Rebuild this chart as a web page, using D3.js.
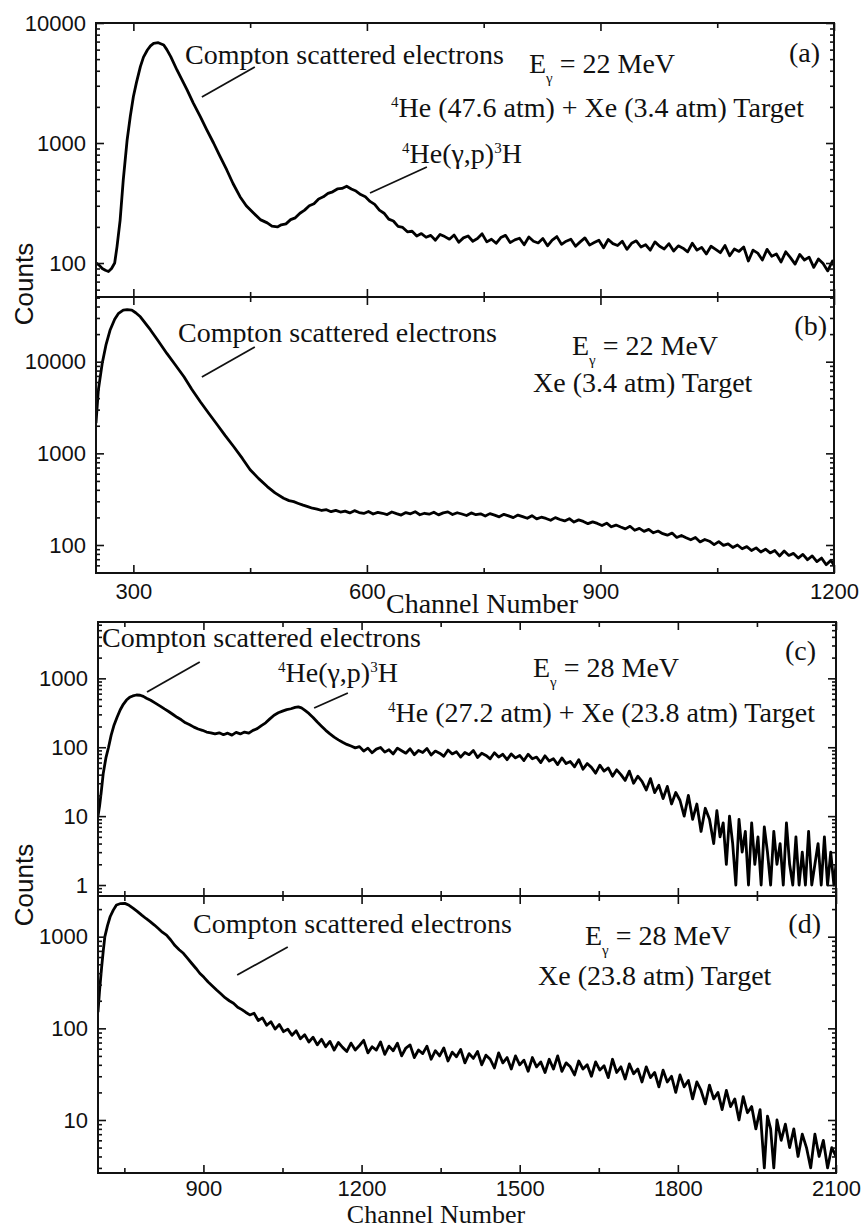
<!DOCTYPE html>
<html>
<head>
<meta charset="utf-8">
<script src="https://cdn.jsdelivr.net/npm/d3@7"></script>
<style>
body { margin: 0; background: #fff; }
svg { display: block; }
.lbl { font-family: "Liberation Serif", "Times New Roman", serif; font-size: 28px; fill: #111; white-space: pre; }
.ttl { font-family: "Liberation Serif", "Times New Roman", serif; font-size: 28px; fill: #111; }
.cnt { font-family: "Liberation Sans", Arial, sans-serif; font-size: 26px; fill: #111; }
.tick text { font-family: "Liberation Sans", Arial, sans-serif; font-size: 22px; fill: #111; }
</style>
</head>
<body>
<svg id="chart" width="862" height="1230"></svg>
<script>
// spectra: [channel, counts]
const spectrumA = [[252,100],[256,96],[260,90],[264,87],[268,85],[272,90],[276,100],[279,137],[283,228],[287,490],[292,1060],[296,1660],[300,2430],[304,3200],[309,4330],[313,5200],[318,5960],[322,6450],[326,6770],[332,6850],[339,6560],[343,6000],[348,5250],[356,4060],[362,3400],[369,2770],[377,2150],[386,1660],[394,1300],[403,1000],[411,780],[420,596],[428,460],[437,357],[445,300],[454,262],[463,230],[472,216],[478,203],[485,200],[490,208],[496,212],[502,230],[508,238],[514,260],[520,276],[526,300],[532,312],[538,342],[544,356],[550,380],[556,392],[562,414],[568,418],[574,436],[580,414],[586,398],[592,372],[598,356],[604,326],[610,308],[616,276],[622,260],[628,232],[634,224],[640,202],[646,198],[652,182],[658,184],[664,168],
  [670,176],[676,164],[682,170],[688,155],[694,173],[700,166],[706,158],[712,171],[718,149],[724,162],[730,168],[736,152],[742,160],[748,175],[754,150],[760,158],[766,146],[772,163],[778,170],[784,148],[790,156],[796,161],[802,142],[808,165],[814,152],[820,147],[826,160],[832,139],[838,155],[844,166],[850,143],[856,152],[862,158],[868,138],[874,150],[880,162],[886,141],[892,148],[898,155],[904,134],[910,157],[916,145],[922,140],[928,152],[934,130],[940,146],[946,153],[952,136],[958,142],[964,128],[970,150],[976,138],[982,131],[988,145],[994,126],[1000,139],[1006,133],[1012,124],[1018,146],[1024,128],[1030,135],[1036,119],[1042,138],[1048,130],[1054,122],[1060,140],[1066,115],[1072,131],[1078,125],[1084,136],[1090,104],[1096,128],[1102,121],[1108,106],[1114,130],[1120,114],[1126,119],[1132,102],[1138,124],[1144,111],[1150,98],[1156,118],[1162,106],[1168,112],[1174,92],[1180,108],[1186,99],[1192,86],[1198,104],[1200,95]];

const spectrumB = [[252,2130],[255,4900],[260,9600],[265,15500],[270,22000],[276,29000],[281,33700],[287,36600],[292,37000],[298,36600],[303,34200],[309,30900],[315,26500],[322,22200],[332,16800],[343,12300],[354,9200],[365,6850],[375,5000],[386,3660],[397,2720],[408,2040],[418,1560],[429,1180],[440,880],[450,661],[461,530],[472,434],[482,370],[493,324],
  [500,305],[506,297],[512,284],[518,272],[524,262],[530,252],[536,246],[542,238],[548,243],[554,231],[560,239],[566,229],[572,234],[578,224],[584,237],[590,226],[596,221],[602,232],[608,218],[614,227],[620,222],[626,215],[632,229],[638,220],[644,212],[650,226],[656,219],[662,231],[668,214],[674,222],[680,217],[686,228],[692,213],[698,224],[704,230],[710,215],[716,225],[722,218],[728,210],[734,224],[740,214],[746,219],[752,207],[758,220],[764,212],[770,203],[776,216],[782,208],[788,199],[794,212],[800,204],[806,196],[812,209],[818,193],[824,201],[830,195],[836,186],[842,199],[848,190],[854,183],[860,194],[866,178],[872,188],[878,181],[884,171],[890,179],[896,172],[902,163],[908,173],[914,158],[920,165],[926,157],[932,150],[938,160],[944,145],[950,152],[956,141],[962,148],[968,136],[974,142],[980,133],[986,128],[992,135],[998,121],[1004,127],[1010,120],[1016,114],[1022,121],[1028,108],[1034,115],[1040,110],[1046,101],[1052,109],[1058,99],[1064,103],[1070,94],[1076,100],[1082,91],[1088,96],[1094,87],[1100,93],[1106,84],[1112,90],[1118,82],[1124,87],[1130,76],[1136,86],[1142,77],[1148,81],[1154,72],[1160,79],[1166,69],[1172,76],[1178,66],[1184,72],[1190,61],[1196,68],[1200,60]];

const spectrumC = [[700,10],[703,14],[706,22],[710,42],[715,70],[720,100],[725,150],[730,205],[736,270],[742,347],[748,420],[754,484],[760,530],[766,556],[773,573],[780,568],[786,548],[792,515],[800,480],[808,440],[818,395],[826,360],[834,330],[843,296],[850,272],[858,250],[866,226],[874,212],[882,196],[890,184],[898,176],[906,166],[914,162],[922,156],[930,162],[938,152],[946,160],[954,150],[962,164],[970,156],[978,166],[986,160],[994,176],[1002,186],[1010,206],[1018,226],[1026,258],[1034,292],[1042,316],[1050,334],[1058,352],[1066,362],[1074,378],[1080,385],[1086,372],[1092,346],[1100,310],[1108,270],[1116,232],[1124,202],[1132,176],[1140,156],[1148,140],[1156,128],[1164,118],[1172,110],[1180,104],[1188,98],
  [1196,102],[1204,88],[1212,97],[1220,83],[1228,94],[1236,99],[1244,85],[1252,92],[1260,80],[1268,97],[1276,89],[1284,82],[1292,95],[1300,78],[1308,90],[1316,84],[1324,96],[1332,77],[1340,88],[1348,82],[1356,74],[1364,91],[1372,80],[1380,86],[1388,72],[1396,84],[1404,78],[1412,90],[1420,71],[1428,82],[1436,76],[1444,68],[1452,83],[1460,72],[1468,79],[1476,66],[1484,80],[1492,70],[1500,76],[1508,64],[1516,79],[1524,68],[1532,72],[1540,60],[1548,75],[1556,63],[1564,68],[1572,56],[1580,70],[1588,58],[1596,62],[1604,52],[1612,66],[1620,48],[1628,58],[1636,51],[1644,42],[1652,55],[1660,45],[1668,50],[1676,38],[1684,47],[1692,40],[1700,33],[1708,45],[1716,30],[1724,38],[1732,32],[1740,24],[1748,35],[1756,22],[1764,28],[1772,18],[1780,27],[1788,15],[1796,22],[1804,17],[1812,10],[1820,20],[1828,9],[1836,15],[1844,6],[1852,13],[1860,9],[1868,4],[1874,12],[1880,5],[1886,8],[1892,2],[1898,10],[1904,4],[1910,1],[1916,9],[1922,3],[1928,6],[1934,1],[1940,8],[1946,2],[1952,5],[1958,1],[1964,7],[1970,3],[1976,1],[1982,6],[1988,2],[1994,4],[2000,1],[2006,8],[2012,2],[2018,1],[2024,5],[2030,1],[2036,3],[2042,1],[2048,6],[2054,1],[2060,2],[2066,4],[2072,1],[2078,5],[2084,1],[2090,3],[2096,1],[2100,2]];

const spectrumD = [[700,150],[703,260],[707,471],[710,700],[713,1000],[718,1320],[723,1650],[729,1950],[735,2220],[743,2300],[751,2310],[759,2200],[767,2040],[775,1880],[783,1720],[791,1580],[799,1460],[807,1340],[815,1220],[822,1120],[830,1040],[838,920],[846,800],[854,720],[862,659],[870,580],[878,510],[886,450],[893,399],[901,360],[909,320],[917,290],[925,262],[933,238],[941,216],[949,200],[957,188],[965,170],[973,160],[980,150],[988,140],
  [996,146],[1004,122],[1012,130],[1020,108],[1028,118],[1036,98],[1044,110],[1052,92],[1060,98],[1068,84],[1076,94],[1084,77],[1092,85],[1100,71],[1108,80],[1116,66],[1124,76],[1132,63],[1140,72],[1148,58],[1156,70],[1164,62],[1172,56],[1180,69],[1188,58],[1196,65],[1204,74],[1212,54],[1220,63],[1228,58],[1236,71],[1244,52],[1252,64],[1260,57],[1268,69],[1276,50],[1284,61],[1292,66],[1300,48],[1308,58],[1316,53],[1324,64],[1332,46],[1340,57],[1348,50],[1356,61],[1364,44],[1372,55],[1380,49],[1388,59],[1396,42],[1404,53],[1412,47],[1420,56],[1428,40],[1436,51],[1444,46],[1452,37],[1460,54],[1468,42],[1476,48],[1484,36],[1492,50],[1500,40],[1508,45],[1516,34],[1524,48],[1532,38],[1540,43],[1548,33],[1556,46],[1564,36],[1572,50],[1580,34],[1588,42],[1596,38],[1604,31],[1612,44],[1620,36],[1628,40],[1636,30],[1644,43],[1652,35],[1660,39],[1668,29],[1676,46],[1684,33],[1692,38],[1700,28],[1708,41],[1716,32],[1724,36],[1732,26],[1740,38],[1748,29],[1756,33],[1764,23],[1772,35],[1780,26],[1788,30],[1796,20],[1804,31],[1812,23],[1820,27],[1828,17],[1836,26],[1844,21],[1852,15],[1860,24],[1868,17],[1876,20],[1884,13],[1892,21],[1900,14],[1908,17],[1916,10],[1924,18],[1932,12],[1940,14],[1948,8],[1956,13],[1964,3],[1970,11],[1976,8],[1982,3],[1988,10],[1996,6],[2004,9],[2012,5],[2020,8],[2028,4],[2036,7],[2044,5],[2052,3],[2060,7],[2068,4],[2076,6],[2084,3],[2092,5],[2100,4]];

// axis ticks
const topMajorTicks = [300, 600, 900, 1200];
const topMinorTicks = [450, 750, 1050];
const botMajorTicks = [900, 1200, 1500, 1800, 2100];
const botMinorTicks = [750, 1050, 1350, 1650, 1950];

const svg = d3.select("#chart");

const xTop = d3.scaleLinear().domain([252, 1200]).range([96, 834]);
const xBot = d3.scaleLinear().domain([700, 2100]).range([98, 836]);

// leader lines are given in data coordinates of their panel
const panels = [
  {id: "a", data: spectrumA, x: xTop, y: d3.scaleLog().domain([52.1, 10000]).range([297, 23]),
   major: topMajorTicks, minor: topMinorTicks, labels: false, pad: 10,
   leaders: [[[388, 2417], [456, 4299]], [[604, 383], [677, 631]]]},
  {id: "b", data: spectrumB, x: xTop, y: d3.scaleLog().domain([49.5, 50800]).range([573, 297]),
   major: topMajorTicks, minor: topMinorTicks, labels: true, pad: 10,
   leaders: [[[388, 6810], [456, 14450]]]},
  {id: "c", data: spectrumC, x: xBot, y: d3.scaleLog().domain([0.693, 6575]).range([896, 622]),
   major: botMajorTicks, minor: botMinorTicks, labels: false, pad: 7,
   leaders: [[[793, 632], [893, 1725]], [[1110, 371], [1174, 612]]]},
  {id: "d", data: spectrumD, x: xBot, y: d3.scaleLog().domain([2.64, 2780]).range([1173, 896]),
   major: botMajorTicks, minor: botMinorTicks, labels: true, pad: 7,
   leaders: [[[964, 382], [1060, 773]]]}
];

function addAxis(g, axis, transform) {
  g.append("g")
    .attr("transform", transform)
    .call(axis)
    .call(a => a.select(".domain").remove())
    .call(a => a.selectAll(".tick line").attr("stroke", "#111").attr("stroke-width", 1.6));
}

function drawPanel(p) {
  const g = svg.append("g");
  const [x0, x1] = p.x.range();
  const [yb, yt] = p.y.range();
  const clipId = "clip-" + p.id;
  svg.append("clipPath").attr("id", clipId)
    .append("rect").attr("x", x0).attr("y", yt).attr("width", x1 - x0).attr("height", yb - yt);

  const line = d3.line().x(d => p.x(d[0])).y(d => p.y(d[1]));
  g.append("path")
    .datum(p.data)
    .attr("clip-path", "url(#" + clipId + ")")
    .attr("fill", "none")
    .attr("stroke", "#000")
    .attr("stroke-width", 2.8)
    .attr("stroke-linejoin", "round")
    .attr("d", line);

  // log ticks
  const dom = p.y.domain();
  const yt2 = p.y.ticks().filter(v => v >= dom[0] && v <= dom[1]);
  const isMajor = v => Math.abs(Math.log10(v) - Math.round(Math.log10(v))) < 1e-9;
  const yMaj = yt2.filter(isMajor), yMin = yt2.filter(v => !isMajor(v));

  addAxis(g, d3.axisLeft(p.y).tickValues(yMaj).tickSize(-8).tickPadding(10).tickFormat(d3.format("d")), "translate(" + x0 + ",0)");
  addAxis(g, d3.axisLeft(p.y).tickValues(yMin).tickSize(-4).tickFormat(""), "translate(" + x0 + ",0)");
  addAxis(g, d3.axisRight(p.y).tickValues(yMaj).tickSize(-8).tickFormat(""), "translate(" + x1 + ",0)");
  addAxis(g, d3.axisRight(p.y).tickValues(yMin).tickSize(-4).tickFormat(""), "translate(" + x1 + ",0)");

  addAxis(g, d3.axisTop(p.x).tickValues(p.major).tickSize(-8).tickFormat(""), "translate(0," + yt + ")");
  addAxis(g, d3.axisTop(p.x).tickValues(p.minor).tickSize(-5).tickFormat(""), "translate(0," + yt + ")");
  addAxis(g, d3.axisBottom(p.x).tickValues(p.major).tickSize(-8).tickPadding(p.pad).tickFormat(p.labels ? d3.format("d") : ""), "translate(0," + yb + ")");
  addAxis(g, d3.axisBottom(p.x).tickValues(p.minor).tickSize(-5).tickFormat(""), "translate(0," + yb + ")");

  g.append("rect")
    .attr("x", x0).attr("y", yt).attr("width", x1 - x0).attr("height", yb - yt)
    .attr("fill", "none").attr("stroke", "#111").attr("stroke-width", 2);

  p.leaders.forEach(l => {
    g.append("line")
      .attr("x1", p.x(l[0][0])).attr("y1", p.y(l[0][1]))
      .attr("x2", p.x(l[1][0])).attr("y2", p.y(l[1][1]))
      .attr("stroke", "#111").attr("stroke-width", 1.8);
  });
}

panels.forEach(drawPanel);

// text with super/subscripts: parts = [[text, "sup"|"sub"|null], ...]
function richText(x, y, parts, anchor) {
  const t = svg.append("text").attr("class", "lbl")
    .attr("x", x).attr("y", y).attr("text-anchor", anchor || "start");
  let shift = 0;
  parts.forEach(pt => {
    const off = pt[1] === "sup" ? -10 : pt[1] === "sub" ? 10 : 0;
    const s = t.append("tspan").attr("dy", off - shift).text(pt[0]);
    if (pt[1]) s.attr("font-size", 15);
    shift = off;
  });
}

// panel (a)
richText(185, 64, [["Compton scattered electrons"]]);
richText(529, 73, [["E"], ["γ", "sub"], [" = 22 MeV"]]);
richText(391, 117, [["4", "sup"], ["He (47.6 atm) + Xe (3.4 atm) Target"]]);
richText(402, 163, [["4", "sup"], ["He(γ,p)"], ["3", "sup"], ["H"]]);
richText(820, 62, [["(a)"]], "end");
// panel (b)
richText(178, 342, [["Compton scattered electrons"]]);
richText(572, 355, [["E"], ["γ", "sub"], [" = 22 MeV"]]);
richText(533, 392, [["Xe (3.4 atm) Target"]]);
richText(827, 335, [["(b)"]], "end");
// panel (c)
richText(102, 647, [["Compton scattered electrons"]]);
richText(278, 682, [["4", "sup"], ["He(γ,p)"], ["3", "sup"], ["H"]]);
richText(533, 677, [["E"], ["γ", "sub"], [" = 28 MeV"]]);
richText(388, 722, [["4", "sup"], ["He (27.2 atm) + Xe (23.8 atm) Target"]]);
richText(816, 660, [["(c)"]], "end");
// panel (d)
richText(193, 933, [["Compton scattered electrons"]]);
richText(585, 945, [["E"], ["γ", "sub"], [" = 28 MeV"]]);
richText(538, 985, [["Xe (23.8 atm) Target"]]);
richText(821, 933, [["(d)"]], "end");

// axis titles
svg.append("text").attr("class", "ttl").attr("x", 482).attr("y", 613).attr("text-anchor", "middle").text("Channel Number");
svg.append("text").attr("class", "ttl").attr("x", 436).attr("y", 1223).attr("text-anchor", "middle").style("font-size", "26px").text("Channel Number");
svg.append("text").attr("class", "cnt").attr("transform", "translate(33,284) rotate(-90)").attr("text-anchor", "middle").text("Counts");
svg.append("text").attr("class", "cnt").attr("transform", "translate(33,885) rotate(-90)").attr("text-anchor", "middle").text("Counts");
</script>
</body>
</html>
